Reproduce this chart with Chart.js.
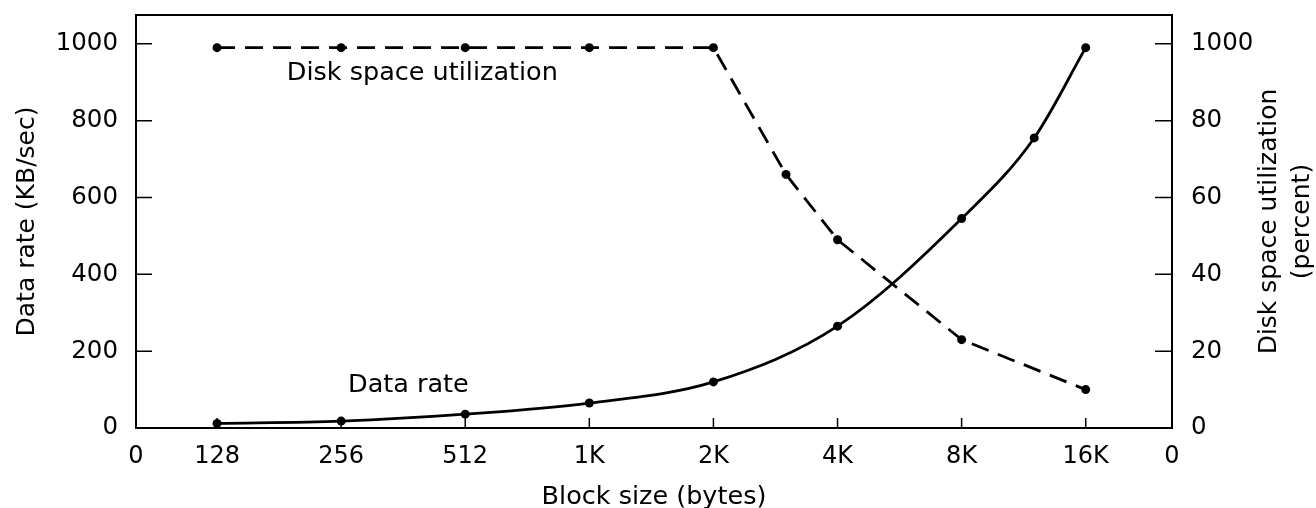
<!DOCTYPE html>
<html><head><meta charset="utf-8">
<script src="https://cdn.jsdelivr.net/npm/chart.js@4"></script>
<style>html,body{margin:0;padding:0;background:#fff}#wrap{width:1316px;height:508px}</style>
</head><body><div id="wrap"><canvas id="c" width="1316" height="508"></canvas></div>
<script>
// ---- data ----
const rateSizes = [128, 256, 512, 1024, 2048, 4096, 8192, 12288, 16384];
const rateValues = [12, 18, 36, 65, 120, 265, 545, 755, 990];
const utilSizes = [128, 256, 512, 1024, 2048, 3072, 4096, 8192, 16384];
const utilValues = [99, 99, 99, 99, 99, 66, 49, 23, 10];
const xTickValues = [128, 256, 512, 1024, 2048, 4096, 8192, 16384];
const xTickLabels = ['0', '128', '256', '512', '1K', '2K', '4K', '8K', '16K', '0'];
const leftTicks = [0, 200, 400, 600, 800, 1000];
const leftTickLabels = ['0', '200', '400', '600', '800', '1000'];
const rightTicks = [0, 20, 40, 60, 80, 100];
const rightTickLabels = ['0', '20', '40', '60', '80', '1000'];
const xTitle = 'Block size (bytes)';
const leftTitle = 'Data rate (KB/sec)';
const rightTitle = ['Disk space utilization', '(percent)'];
const seriesNames = ['Data rate', 'Disk space utilization'];

const FONT = '"DejaVu Sans", "Liberation Sans", sans-serif';
const INK = '#000';

function noPad(s) { s.paddingTop = 0; s.paddingBottom = 0; s.paddingLeft = 0; s.paddingRight = 0; }

const framePlugin = {
  id: 'frame',
  afterDatasetsDraw(chart) {
    const {ctx, chartArea: a, scales} = chart;
    ctx.save();
    ctx.strokeStyle = INK;
    ctx.lineWidth = 2;
    ctx.strokeRect(a.left, a.top, a.right - a.left, a.bottom - a.top);
    // inward ticks
    ctx.lineWidth = 1.5;
    ctx.beginPath();
    scales.y.ticks.forEach(t => {
      const p = scales.y.getPixelForValue(t.value);
      ctx.moveTo(a.left, p); ctx.lineTo(a.left + 16, p);
    });
    scales.y1.ticks.forEach(t => {
      const p = scales.y1.getPixelForValue(t.value);
      ctx.moveTo(a.right, p); ctx.lineTo(a.right - 17, p);
    });
    xTickValues.forEach(v => {
      const p = scales.x.getPixelForValue(v);
      ctx.moveTo(p, a.bottom); ctx.lineTo(p, a.bottom - 10);
    });
    ctx.stroke();
    // series labels
    ctx.fillStyle = INK;
    ctx.font = '25.5px ' + FONT;
    ctx.textBaseline = 'middle';
    ctx.textAlign = 'left';
    ctx.fillText(seriesNames[1], scales.x.getPixelForValue(189), scales.y1.getPixelForValue(92.3));
    ctx.fillText(seriesNames[0], scales.x.getPixelForValue(266), scales.y.getPixelForValue(112));
    // right axis title, reading bottom-to-top
    const s = scales.y1;
    const cy = (a.top + a.bottom) / 2;
    ctx.font = '25px ' + FONT;
    ctx.textAlign = 'center';
    rightTitle.forEach((line, i) => {
      ctx.save();
      ctx.translate(s.left + 97 + i * 33, cy);
      ctx.rotate(-Math.PI / 2);
      ctx.fillText(line, 0, 0);
      ctx.restore();
    });
    ctx.restore();
  }
};

new Chart(document.getElementById('c'), {
  type: 'line',
  data: {
    datasets: [
      {
        label: seriesNames[0],
        data: rateSizes.map((s, i) => ({x: s, y: rateValues[i]})),
        yAxisID: 'y',
        borderColor: INK, backgroundColor: INK,
        borderWidth: 2.8, pointRadius: 4.5, pointBorderWidth: 0,
        cubicInterpolationMode: 'monotone', fill: false
      },
      {
        label: seriesNames[1],
        data: utilSizes.map((s, i) => ({x: s, y: utilValues[i]})),
        yAxisID: 'y1',
        borderColor: INK, backgroundColor: INK,
        borderWidth: 2.8, borderDash: [18, 10], pointRadius: 4.5, pointBorderWidth: 0,
        tension: 0, fill: false
      }
    ]
  },
  options: {
    responsive: false,
    animation: false,
    devicePixelRatio: 1,
    layout: {padding: {top: 15, left: 0, right: 0, bottom: 0}},
    plugins: {legend: {display: false}, tooltip: {enabled: false}},
    scales: {
      x: {
        type: 'logarithmic',
        position: 'bottom',
        min: 81.4, max: 26530,
        afterFit: s => { s.height = 80; noPad(s); },
        afterBuildTicks: s => {
          s.ticks = [{value: s.min}].concat(xTickValues.map(v => ({value: v})), [{value: s.max}]);
        },
        ticks: {
          autoSkip: false, maxRotation: 0, minRotation: 0, padding: 14,
          color: INK, font: {family: FONT, size: 24},
          callback: (v, i) => xTickLabels[i]
        },
        grid: {display: false, drawTicks: false},
        border: {display: false},
        title: {display: true, text: xTitle, color: INK, font: {family: FONT, size: 25.5, lineHeight: 1}, padding: {top: 0, bottom: -2}}
      },
      y: {
        type: 'linear', position: 'left',
        min: 0, max: 1075,
        afterFit: s => { s.width = 136; noPad(s); },
        afterBuildTicks: s => { s.ticks = leftTicks.map(v => ({value: v})); },
        ticks: {
          padding: 18, color: INK, font: {family: FONT, size: 24.5},
          callback: (v, i) => leftTickLabels[i]
        },
        grid: {display: false, drawTicks: false},
        border: {display: false},
        title: {display: true, text: leftTitle, color: INK, font: {family: FONT, size: 25, lineHeight: 1}, padding: {top: 15, bottom: 0}}
      },
      y1: {
        type: 'linear', position: 'right',
        min: 0, max: 107.5,
        afterFit: s => { s.width = 144; noPad(s); },
        afterBuildTicks: s => { s.ticks = rightTicks.map(v => ({value: v})); },
        ticks: {
          padding: 19, color: INK, font: {family: FONT, size: 24.5},
          callback: (v, i) => rightTickLabels[i]
        },
        grid: {display: false, drawTicks: false},
        border: {display: false},
        title: {display: false}
      }
    }
  },
  plugins: [framePlugin]
});
</script>
</body></html>
